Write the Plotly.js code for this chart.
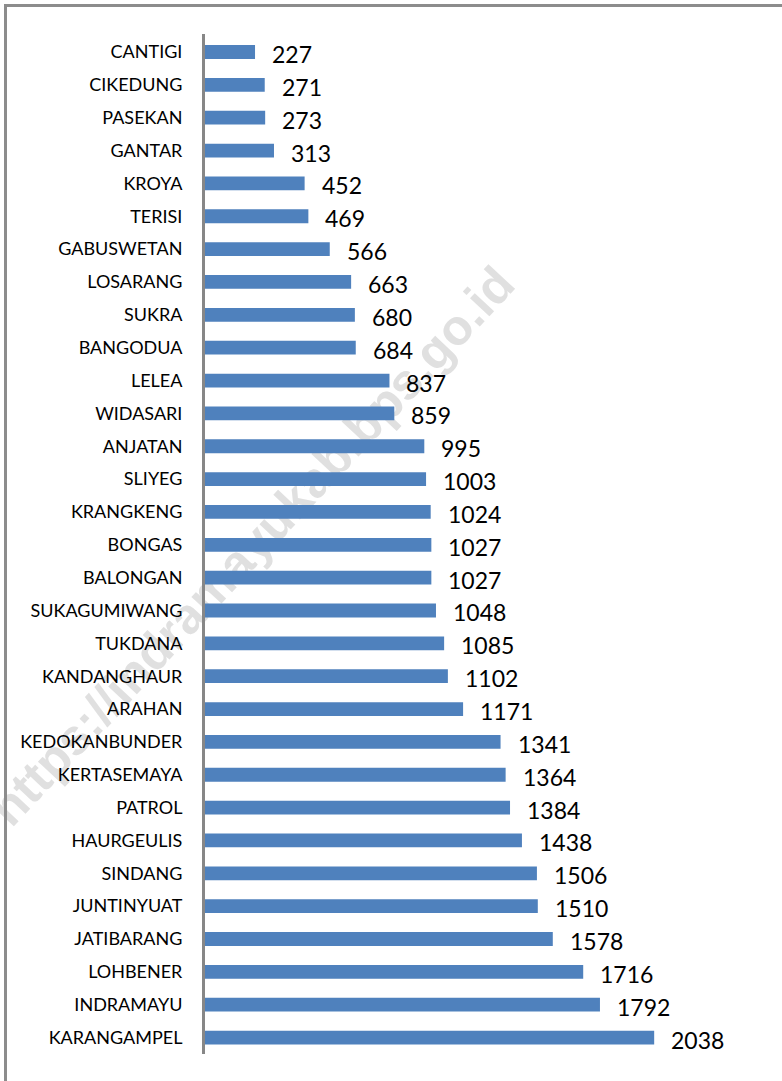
<!DOCTYPE html>
<html>
<head>
<meta charset="utf-8">
<script src="https://cdn.plot.ly/plotly-3.0.1.min.js"></script>
<style>
  html, body { margin: 0; padding: 0; width: 782px; height: 1081px; overflow: hidden; background: #ffffff; }
  #wrap { position: relative; width: 782px; height: 1081px; }
  #watermark {
    position: absolute; left: 252px; top: 546px; z-index: 0;
    transform: translate(-50%, -50%) rotate(-47deg);
    white-space: nowrap; font-family: "Liberation Sans", Arial, sans-serif;
    font-weight: bold; font-size: 50px; color: #e0e0e0;
  }
  #chart { position: absolute; left: 0; top: 0; width: 782px; height: 1081px; z-index: 1; }
  #frame {
    position: absolute; left: 4px; top: 4px; width: 900px; height: 1200px; z-index: 2;
    border: 3px solid #8c8c8c; pointer-events: none;
  }
</style>
</head>
<body>
<div id="wrap">
  <div id="watermark">https://indramayukab.bps.go.id</div>
  <div id="chart"></div>
  <div id="frame"></div>
</div>
<script>
const categories = ["CANTIGI","CIKEDUNG","PASEKAN","GANTAR","KROYA","TERISI","GABUSWETAN","LOSARANG","SUKRA","BANGODUA","LELEA","WIDASARI","ANJATAN","SLIYEG","KRANGKENG","BONGAS","BALONGAN","SUKAGUMIWANG","TUKDANA","KANDANGHAUR","ARAHAN","KEDOKANBUNDER","KERTASEMAYA","PATROL","HAURGEULIS","SINDANG","JUNTINYUAT","JATIBARANG","LOHBENER","INDRAMAYU","KARANGAMPEL"];
const values = [227,271,273,313,452,469,566,663,680,684,837,859,995,1003,1024,1027,1027,1048,1085,1102,1171,1341,1364,1384,1438,1506,1510,1578,1716,1792,2038];

const trace = {
  type: 'bar',
  orientation: 'h',
  x: values,
  y: categories,
  marker: { color: '#4f81bd' },
  width: 0.42,
  hoverinfo: 'none'
};

const annotations = values.map((v, i) => ({
  x: v, y: categories[i], xref: 'x', yref: 'y',
  text: String(v), showarrow: false,
  xanchor: 'left', yanchor: 'middle',
  xshift: 15, yshift: -2,
  font: { family: 'Lato, "Open Sans", sans-serif', size: 23, color: '#000000' }
}));

const layout = {
  width: 782, height: 1081,
  margin: { l: 205, r: 26, t: 34, b: 27, pad: 0 },
  paper_bgcolor: 'rgba(0,0,0,0)',
  plot_bgcolor: 'rgba(0,0,0,0)',
  showlegend: false,
  bargap: 0.58,
  xaxis: { visible: false, range: [0, 2500], fixedrange: true },
  yaxis: {
    type: 'category', autorange: 'reversed',
    showline: true, linecolor: '#878787', linewidth: 3,
    ticks: '', showgrid: false, zeroline: false,
    ticklabelstandoff: 16,
    tickfont: { family: 'Lato, "Open Sans", sans-serif', size: 18, color: '#000000' },
    fixedrange: true
  },
  annotations: annotations
};

Plotly.newPlot('chart', [trace], layout, { displayModeBar: false, staticPlot: true });
</script>
</body>
</html>
